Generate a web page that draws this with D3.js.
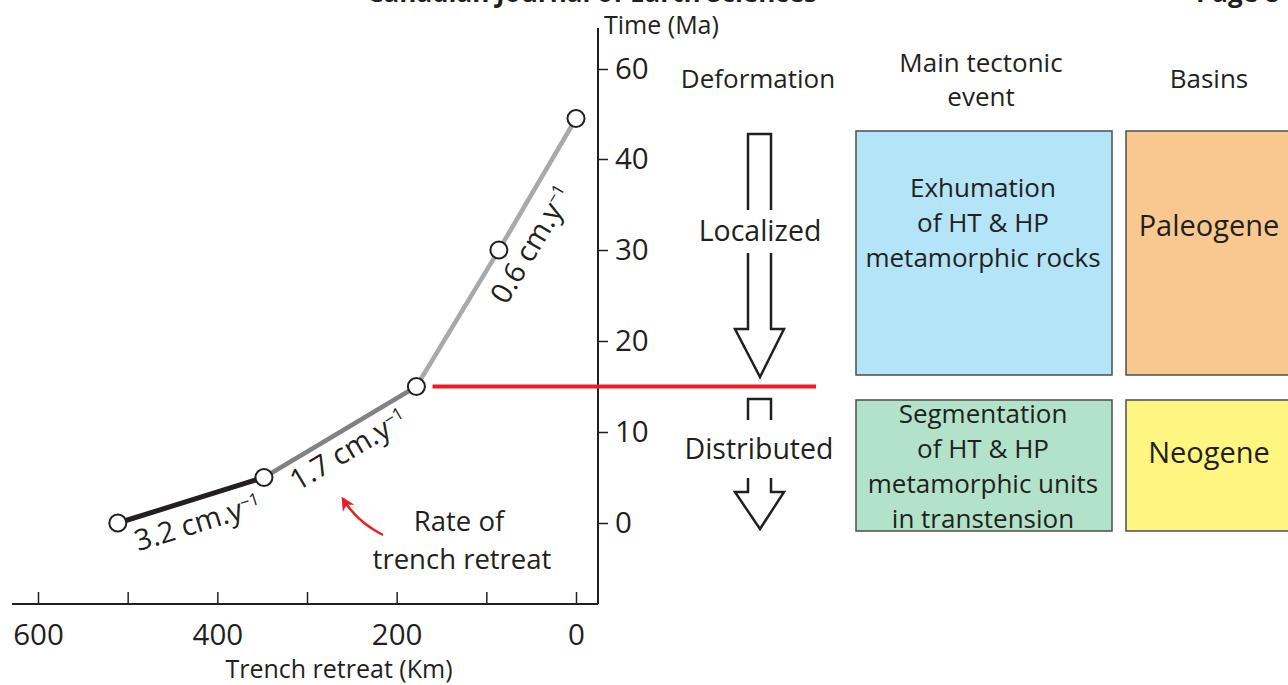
<!DOCTYPE html>
<html>
<head>
<meta charset="utf-8">
<script src="https://d3js.org/d3.v7.min.js"></script>
<style>
  body { margin: 0; background: #fff; }
  svg text { font-family: "Open Sans", "Noto Sans", sans-serif; fill: #231f20; }
</style>
</head>
<body>
<div id="chart"></div>
<script>
// data
var retreatKm = [0, 86, 178, 348, 511];
var timeMa = [49, 30, 15, 5, 0];
var rateLabels = ["0.6", "1.7", "3.2"];
var segmentIdx = [[0, 2], [2, 3], [3, 4]];
var kmTicks = [0, 100, 200, 300, 400, 500, 600];
var kmLabels = [0, 200, 400, 600];
var timeTicks = [0, 10, 20, 30, 40, 60];
var boundaryMa = 15;

var deformationLabels = ["Localized", "Distributed"];
var eventLines = [["Exhumation", "of HT & HP", "metamorphic rocks"],
                  ["Segmentation", "of HT & HP", "metamorphic units", "in transtension"]];
var basinLabels = ["Paleogene", "Neogene"];

var width = 1288, height = 685;
var ink = "#231f20";

var svg = d3.select("#chart")
  .append("svg")
    .attr("width", width)
    .attr("height", height);

// page header, mostly cut off by the crop
svg.append("text")
    .attr("x", 592).attr("y", 2)
    .attr("text-anchor", "middle")
    .attr("font-weight", 700)
    .style("font-size", "26px")
    .text("Canadian Journal of Earth Sciences");
svg.append("text")
    .attr("x", 1196).attr("y", 2)
    .attr("font-weight", 700)
    .style("font-size", "26px")
    .text("Page 8");

var x = d3.scaleLinear()
    .domain([0, 600])
    .range([576, 38]);

// time axis has a break between 40 and 60
var y = d3.scaleLinear()
    .domain([0, 40, 60])
    .range([523, 159, 69]);

// x axis
var xAxis = svg.append("g")
    .attr("transform", "translate(0,604)")
    .call(d3.axisBottom(x)
      .tickValues(kmTicks)
      .tickSizeInner(-12)
      .tickSizeOuter(0)
      .tickPadding(20)
      .tickFormat(function(d) { return kmLabels.indexOf(d) >= 0 ? d : ""; }));
xAxis.select(".domain").remove();
xAxis.selectAll("line").attr("stroke", ink).attr("stroke-width", 1.5);
xAxis.selectAll("text").style("font-size", "29.5px").attr("fill", ink);
svg.append("line")
    .attr("x1", 12).attr("x2", 598)
    .attr("y1", 604).attr("y2", 604)
    .attr("stroke", ink).attr("stroke-width", 2);

svg.append("text")
    .attr("x", 339).attr("y", 678)
    .attr("text-anchor", "middle")
    .style("font-size", "25px")
    .text("Trench retreat (Km)");

// y axis
var yAxis = svg.append("g")
    .attr("transform", "translate(598,0)")
    .call(d3.axisRight(y)
      .tickValues(timeTicks)
      .tickSize(10)
      .tickPadding(7));
yAxis.select(".domain").remove();
yAxis.selectAll("line").attr("stroke", ink).attr("stroke-width", 1.5);
yAxis.selectAll("text").style("font-size", "29.5px").attr("fill", ink);
svg.append("line")
    .attr("x1", 598).attr("x2", 598)
    .attr("y1", 28).attr("y2", 604)
    .attr("stroke", ink).attr("stroke-width", 2);

svg.append("text")
    .attr("x", 604).attr("y", 34)
    .style("font-size", "25px")
    .text("Time (Ma)");

// boundary between localized and distributed deformation
svg.append("line")
    .attr("x1", x(160)).attr("x2", 816)
    .attr("y1", y(boundaryMa)).attr("y2", y(boundaryMa))
    .attr("stroke", "#ed1c24")
    .attr("stroke-width", 4);

// trench retreat path, one segment per rate
var segColors = ["#a7a9ac", "#808285", "#231f20"];
var segWidths = [4.5, 4.5, 5];
var line = d3.line()
    .x(function(i) { return x(retreatKm[i]); })
    .y(function(i) { return y(timeMa[i]); });

svg.append("g")
  .selectAll("path")
  .data(segmentIdx)
  .enter().append("path")
    .attr("d", function(s) { return line(d3.range(s[0], s[1] + 1)); })
    .attr("fill", "none")
    .attr("stroke", function(d, i) { return segColors[i]; })
    .attr("stroke-width", function(d, i) { return segWidths[i]; });

svg.append("g")
  .selectAll("circle")
  .data(retreatKm)
  .enter().append("circle")
    .attr("cx", function(d) { return x(d); })
    .attr("cy", function(d, i) { return y(timeMa[i]); })
    .attr("r", 8.5)
    .attr("fill", "#fff")
    .attr("stroke", ink)
    .attr("stroke-width", 2);

// rate labels along each segment (t = fraction along, d = offset below)
var labelPlace = [{t: 0.42, d: 26}, {t: 0.49, d: 19}, {t: 0.5, d: 23}];
segmentIdx.forEach(function(s, i) {
  var a = [x(retreatKm[s[0]]), y(timeMa[s[0]])],
      b = [x(retreatKm[s[1]]), y(timeMa[s[1]])];
  // left end first so the text reads upwards
  var L = a[0] < b[0] ? a : b, R = a[0] < b[0] ? b : a;
  var dx = R[0] - L[0], dy = R[1] - L[1], len = Math.sqrt(dx * dx + dy * dy);
  var ux = dx / len, uy = dy / len;
  var nx = -uy, ny = ux;
  var t = labelPlace[i].t;
  if (i === 0) t = 1 - t;
  var cx = L[0] + ux * len * t + nx * labelPlace[i].d,
      cy = L[1] + uy * len * t + ny * labelPlace[i].d;
  var ang = Math.atan2(dy, dx) * 180 / Math.PI;
  var txt = svg.append("text")
      .attr("transform", "translate(" + cx + "," + cy + ") rotate(" + ang + ")")
      .attr("text-anchor", "middle")
      .attr("dy", "0.35em")
      .style("font-size", "29px");
  txt.append("tspan").text(rateLabels[i] + " cm.y");
  txt.append("tspan")
      .attr("dy", "-0.55em")
      .style("font-size", "17px")
      .text("\u22121");
});

// red curved arrow
svg.append("defs").append("marker")
    .attr("id", "redhead")
    .attr("viewBox", "0 0 10 10")
    .attr("refX", 8).attr("refY", 5)
    .attr("markerWidth", 5.5).attr("markerHeight", 5.5)
    .attr("orient", "auto")
  .append("path")
    .attr("d", "M0,0 L10,5 L0,10 L3,5 Z")
    .attr("fill", "#ed1c24");
svg.append("path")
    .attr("d", "M383,535 Q357,522 343,499")
    .attr("fill", "none")
    .attr("stroke", "#ed1c24")
    .attr("stroke-width", 2.5)
    .attr("marker-end", "url(#redhead)");

svg.append("text")
    .attr("x", 459).attr("y", 531)
    .attr("text-anchor", "middle")
    .style("font-size", "27.5px")
    .text("Rate of");
svg.append("text")
    .attr("x", 462).attr("y", 569)
    .attr("text-anchor", "middle")
    .style("font-size", "27.5px")
    .text("trench retreat");

// column headers
var headers = [{x: 758, lines: ["Deformation"], y: 88},
               {x: 981, lines: ["Main tectonic", "event"], y: 72},
               {x: 1209, lines: ["Basins"], y: 88}];
headers.forEach(function(h) {
  h.lines.forEach(function(l, j) {
    svg.append("text")
        .attr("x", h.x).attr("y", h.y + j * 34)
        .attr("text-anchor", "middle")
        .style("font-size", "26px")
        .text(l);
  });
});

// deformation arrows (outline broken by the labels)
var arrowPaths = [
  "M748,210 L748,134 L771,134 L771,210",
  "M748,253 L748,329 L735,329 L760,377 L784,329 L771,329 L771,253",
  "M748,420 L748,399 L771,399 L771,420",
  "M748,478 L748,492 L735,492 L760,529 L784,492 L771,492 L771,478"
];
svg.append("g")
  .selectAll("path")
  .data(arrowPaths)
  .enter().append("path")
    .attr("d", function(d) { return d; })
    .attr("fill", "none")
    .attr("stroke", ink)
    .attr("stroke-width", 2.5)
    .attr("stroke-linejoin", "miter");

svg.append("text")
    .attr("x", 760).attr("y", 241)
    .attr("text-anchor", "middle")
    .style("font-size", "28.5px")
    .text(deformationLabels[0]);
svg.append("text")
    .attr("x", 759).attr("y", 459)
    .attr("text-anchor", "middle")
    .style("font-size", "28.5px")
    .text(deformationLabels[1]);

// tectonic event and basin boxes
var boxes = [
  {x: 856, y: 131, w: 256, h: 244, fill: "#b3e4f8"},
  {x: 1126, y: 131, w: 170, h: 244, fill: "#f9c890"},
  {x: 856, y: 400, w: 256, h: 131, fill: "#b2e2c9"},
  {x: 1126, y: 400, w: 170, h: 131, fill: "#fff581"}
];
svg.append("g")
  .selectAll("rect")
  .data(boxes)
  .enter().append("rect")
    .attr("x", function(d) { return d.x; })
    .attr("y", function(d) { return d.y; })
    .attr("width", function(d) { return d.w; })
    .attr("height", function(d) { return d.h; })
    .attr("fill", function(d) { return d.fill; })
    .attr("stroke", "#4d4d4f")
    .attr("stroke-width", 1.5);

var eventTop = [197, 423];
eventLines.forEach(function(lines, i) {
  lines.forEach(function(l, j) {
    svg.append("text")
        .attr("x", 983).attr("y", eventTop[i] + j * 35)
        .attr("text-anchor", "middle")
        .style("font-size", "26px")
        .text(l);
  });
});

var basinY = [236, 463];
basinLabels.forEach(function(b, i) {
  svg.append("text")
      .attr("x", 1209).attr("y", basinY[i])
      .attr("text-anchor", "middle")
      .style("font-size", "29px")
      .text(b);
});
</script>
</body>
</html>
